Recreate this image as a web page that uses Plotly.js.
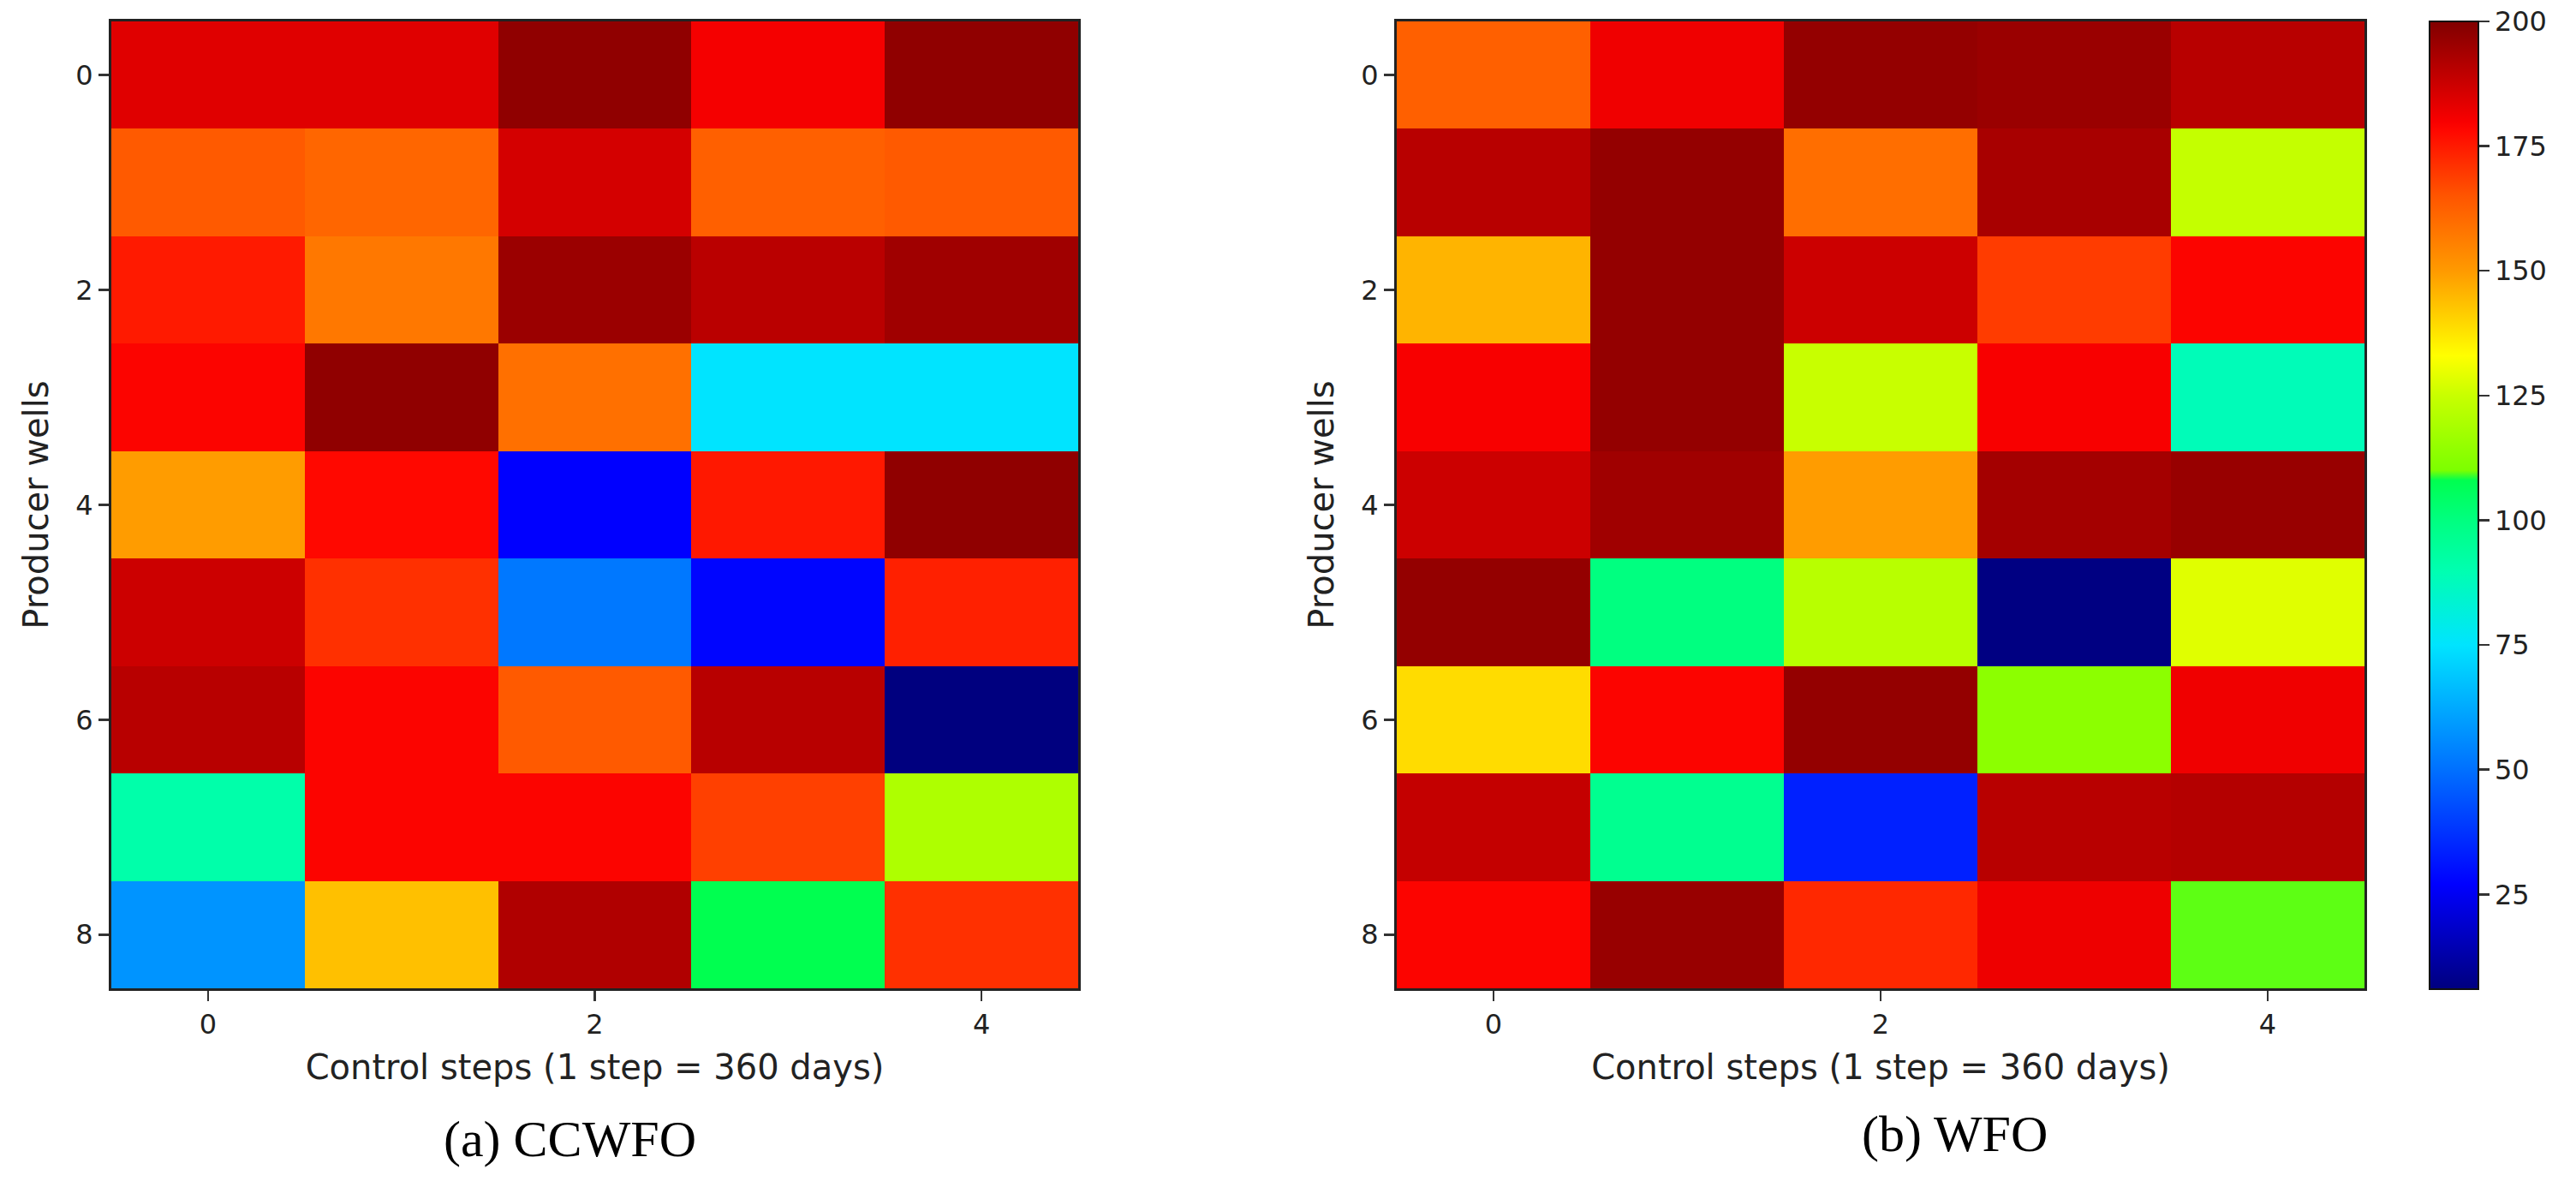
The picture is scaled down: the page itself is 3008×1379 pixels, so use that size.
<!DOCTYPE html>
<html>
<head>
<meta charset="utf-8">
<script src="https://cdn.plot.ly/plotly-3.0.1.min.js"></script>
<style>html,body{margin:0;padding:0;background:#fff;}#chart{width:3008px;height:1379px;}</style>
</head>
<body>
<div id="chart"></div>
<script>
// ---- data ----
const steps = [0, 1, 2, 3, 4];
const wells = [0, 1, 2, 3, 4, 5, 6, 7, 8];
const ccwfoValues = [
  [184.0, 184.0, 197.3, 180.5, 197.3],
  [163.9, 161.3, 186.0, 162.6, 163.9],
  [175.0, 157.4, 195.5, 190.3, 194.7],
  [179.0, 197.3, 159.1, 75.0, 75.0],
  [149.7, 178.0, 27.0, 175.3, 197.3],
  [187.3, 171.2, 51.7, 28.0, 174.0],
  [190.7, 179.0, 163.9, 190.7, 6.0],
  [91.3, 179.0, 179.0, 168.5, 119.9],
  [57.8, 143.6, 192.0, 108.0, 171.2]
];
const wfoValues = [
  [162.6, 181.3, 196.7, 195.7, 190.7],
  [190.7, 196.7, 159.6, 193.3, 124.2],
  [145.6, 196.7, 187.3, 169.2, 179.0],
  [180.0, 196.7, 125.0, 180.0, 88.5],
  [187.3, 194.7, 149.7, 194.0, 196.0],
  [196.7, 100.0, 121.8, 6.5, 128.5],
  [138.9, 179.0, 196.7, 113.2, 181.3],
  [188.7, 96.7, 33.6, 190.7, 191.3],
  [179.0, 196.0, 172.6, 181.7, 109.5]
];
const xTickVals = [0, 2, 4];
const yTickVals = [0, 2, 4, 6, 8];
const cbTickVals = [25, 50, 75, 100, 125, 150, 175, 200];
const xTitle = "Control steps (1 step = 360 days)";
const yTitle = "Producer wells";
const captions = ["(a) CCWFO", "(b) WFO"];
const zMin = 6, zMax = 200;
// colour stops (value, colour)
const stopValues = [6, 27, 50, 75, 90, 100, 108, 110, 125, 133, 150, 165, 178, 180, 200];
const stopColors = ["#00007F", "#0000FF", "#0070FF", "#00E4FF", "#00FFB0", "#00FF80", "#00FF50",
                    "#7CFF00", "#C8FF00", "#FFFF00", "#FF9A00", "#FF5500", "#FF0800", "#F80000", "#800000"];

const colorscale = stopValues.map((v, i) => [(v - zMin) / (zMax - zMin), stopColors[i]]);

const W = 3008, H = 1379;
const tickFont = {family: "DejaVu Sans", size: 32, color: "#222"};
const titleFont = {family: "DejaVu Sans", size: 40, color: "#222"};

function xAxis(domain, anchor) {
  return {
    domain: domain, anchor: anchor, range: [-0.5, 4.5],
    tickvals: xTickVals, ticks: "outside", ticklen: 12, tickwidth: 2.5, tickcolor: "#333",
    tickfont: tickFont, showgrid: false, zeroline: false,
    showline: true, mirror: true, linecolor: "#222", linewidth: 3,
    title: {text: xTitle, font: titleFont, standoff: 18}
  };
}
function yAxis(domain, anchor) {
  return {
    domain: domain, anchor: anchor, range: [8.5, -0.5],
    tickvals: yTickVals, ticks: "outside", ticklen: 12, tickwidth: 2.5, tickcolor: "#333",
    tickfont: tickFont, showgrid: false, zeroline: false,
    showline: true, mirror: true, linecolor: "#222", linewidth: 3,
    title: {text: yTitle, font: titleFont, standoff: 20}
  };
}

const yDom = [1 - 1154 / H, 1 - 25 / H];

const traces = [
  {
    type: "heatmap", x: steps, y: wells, z: ccwfoValues,
    xaxis: "x", yaxis: "y", colorscale: colorscale, zmin: zMin, zmax: zMax,
    showscale: false, hoverongaps: false
  },
  {
    type: "heatmap", x: steps, y: wells, z: wfoValues,
    xaxis: "x2", yaxis: "y2", colorscale: colorscale, zmin: zMin, zmax: zMax,
    showscale: true,
    colorbar: {
      x: 2837 / W, xanchor: "left", xpad: 0, ypad: 0,
      y: 1 - 590 / H, yanchor: "middle",
      len: 1130 / H, lenmode: "fraction",
      thickness: 57, thicknessmode: "pixels",
      outlinewidth: 2, outlinecolor: "#111",
      tickvals: cbTickVals, ticks: "outside", ticklen: 12, tickwidth: 2.5, tickcolor: "#333",
      tickfont: tickFont
    }
  }
];

const layout = {
  width: W, height: H,
  margin: {l: 0, r: 0, t: 0, b: 0},
  paper_bgcolor: "#fff", plot_bgcolor: "#fff",
  showlegend: false,
  xaxis: xAxis([130 / W, 1259 / W], "y"),
  yaxis: yAxis(yDom, "x"),
  xaxis2: xAxis([1631 / W, 2761 / W], "y2"),
  yaxis2: yAxis(yDom, "x2"),
  annotations: [
    {text: captions[0], xref: "paper", yref: "paper", x: 665 / W, y: 1 - 1330 / H,
     xanchor: "center", yanchor: "middle", showarrow: false,
     font: {family: "Liberation Serif", size: 60, color: "#000"}},
    {text: captions[1], xref: "paper", yref: "paper", x: 2282 / W, y: 1 - 1324 / H,
     xanchor: "center", yanchor: "middle", showarrow: false,
     font: {family: "Liberation Serif", size: 60, color: "#000"}}
  ]
};

Plotly.newPlot("chart", traces, layout, {displayModeBar: false, staticPlot: true});
</script>
</body>
</html>
